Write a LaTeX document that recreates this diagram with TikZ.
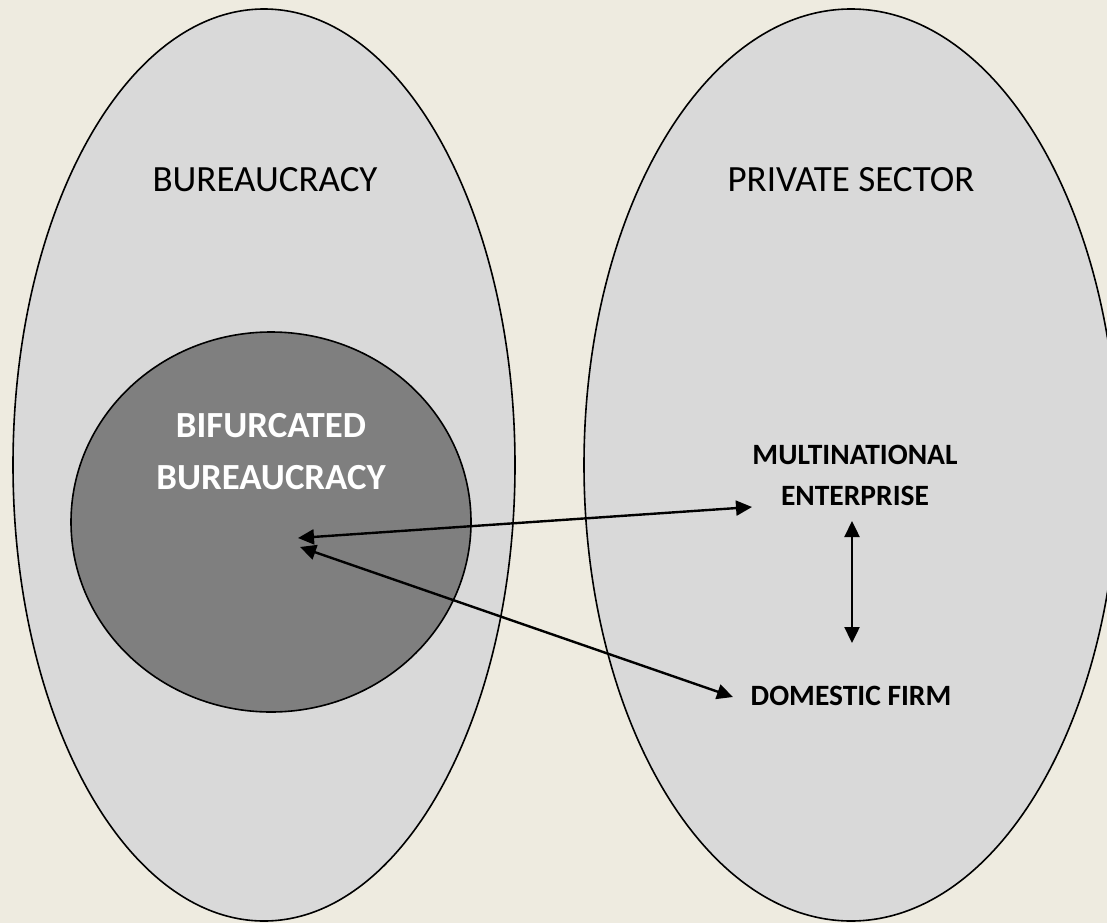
\documentclass[tikz,border=0pt]{standalone}
\usepackage{fontspec}
\setmainfont{Carlito}
\usetikzlibrary{arrows.meta}

\definecolor{paper}{HTML}{EEEBE0}
\definecolor{sectorfill}{HTML}{D9D9D9}
\definecolor{corefill}{HTML}{7F7F7F}

\tikzset{
    sector/.style={draw=black, line width=1.6pt, fill=sectorfill},
    core/.style={draw=black, line width=1.6pt, fill=corefill},
    title/.style={font=\fontsize{37}{44}\selectfont, inner sep=0pt},
    actor/.style={font=\bfseries\fontsize{29.5}{41}\selectfont, align=center, inner sep=0pt},
    link/.style={line width=2.4pt, {Triangle[length=16pt, width=15pt]}-{Triangle[length=16pt, width=15pt]}}
}

\begin{document}
\begin{tikzpicture}[x=1pt, y=-1pt]
    % Page area and background
    \fill[paper] (0,0) rectangle (1107,923);
    \useasboundingbox (0,0) rectangle (1107,923);
    \clip (0,0) rectangle (1107,923);

    % The two sectors
    \draw[sector] (264,465) ellipse [x radius=251pt, y radius=456pt];
    \draw[sector] (851,465) ellipse [x radius=267pt, y radius=456pt];

    % Core inside the bureaucracy
    \draw[core] (271,522) ellipse [x radius=200pt, y radius=190pt];

    % Labels
    \node[title] (bur) at (265,180) {BUREAUCRACY};
    \node[title] (priv) at (851,180) {PRIVATE SECTOR};
    \node[actor, text=white, font=\bfseries\fontsize{36.8}{52}\selectfont] (bif) at (271,452) {BIFURCATED\\BUREAUCRACY};
    \node[actor] (mne) at (855,475) {MULTINATIONAL\\ENTERPRISE};
    \node[actor] (dom) at (851,696) {DOMESTIC FIRM};

    % Arrow ends
    \coordinate (hubA) at (298,538);
    \coordinate (hubB) at (300,547);
    \coordinate (mneIn) at (752,507);
    \coordinate (domIn) at (733,697);
    \coordinate (mneLow) at (852,521);
    \coordinate (domHigh) at (852,643);

    % Links
    \draw[link] (hubA) -- (mneIn);
    \draw[link] (hubB) -- (domIn);
    \draw[link] (mneLow) -- (domHigh);
\end{tikzpicture}
\end{document}
